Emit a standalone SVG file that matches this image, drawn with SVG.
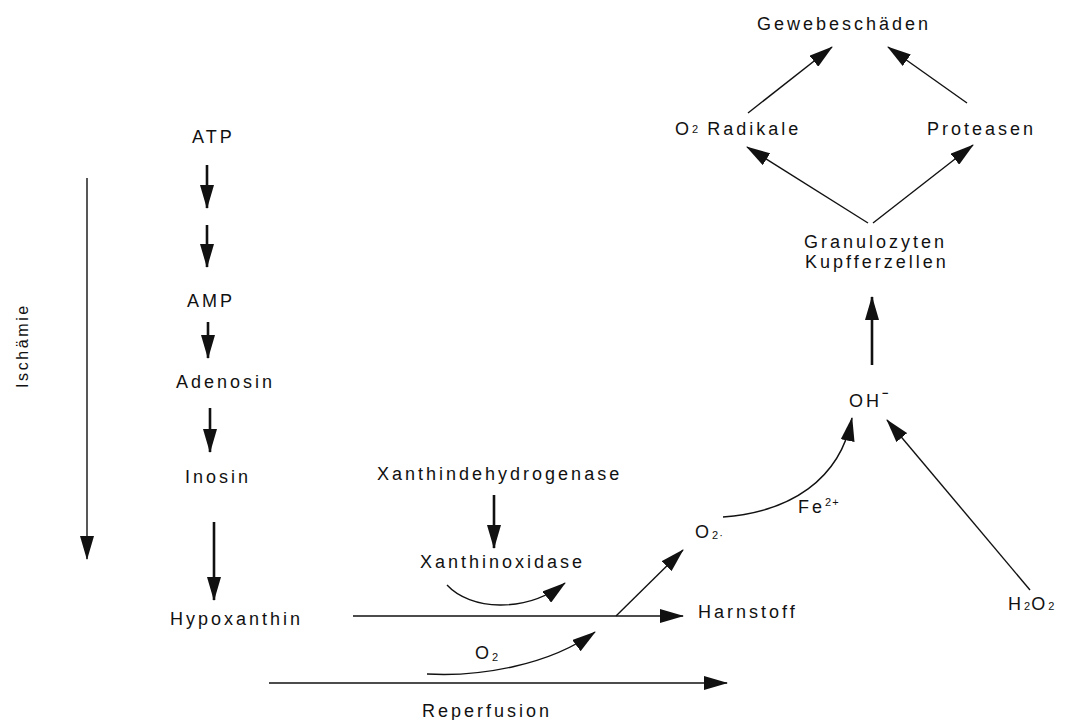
<svg xmlns="http://www.w3.org/2000/svg" width="1065" height="720" viewBox="0 0 1065 720">
<style>
text{font-family:"Liberation Sans",Arial,Helvetica,sans-serif;font-size:18px;letter-spacing:3px;fill:#111}
.sm{font-size:11px;letter-spacing:1px}
.c{fill:none;stroke:#111;stroke-width:1.4}
.t{stroke-width:2.6}
</style>
<defs>
<marker id="ah" viewBox="0 0 24 14" refX="23" refY="7" markerWidth="24" markerHeight="14" markerUnits="userSpaceOnUse" orient="auto">
<path d="M0,0 L24,7 L0,14 Z" fill="#111"/>
</marker>
</defs>
<rect width="1065" height="720" fill="#fff"/>
<g id="connectors">
<path class="c" d="M87,178 V559" marker-end="url(#ah)"/>
<path class="c t" d="M207,165 V208" marker-end="url(#ah)"/>
<path class="c t" d="M207,225 V267" marker-end="url(#ah)"/>
<path class="c t" d="M208,322 V358" marker-end="url(#ah)"/>
<path class="c t" d="M210,408 V452" marker-end="url(#ah)"/>
<path class="c t" d="M214,522 V600" marker-end="url(#ah)"/>
<path class="c t" d="M494,495 V548" marker-end="url(#ah)"/>
<path class="c" d="M447,585 C470,610 525,614 565,583" marker-end="url(#ah)"/>
<path class="c" d="M353,616 H683" marker-end="url(#ah)"/>
<path class="c" d="M616,616 L683,550" marker-end="url(#ah)"/>
<path class="c" d="M427,674 C480,677 550,665 595,632" marker-end="url(#ah)"/>
<path class="c" d="M269,683 H727" stroke-width="1.8" marker-end="url(#ah)"/>
<path class="c" d="M723,517 C790,512 840,480 852,418" marker-end="url(#ah)"/>
<path class="c" d="M1030,590 L887,420" marker-end="url(#ah)"/>
<path class="c t" d="M872,365 V297" marker-end="url(#ah)"/>
<path class="c" d="M868,223 L747,147" marker-end="url(#ah)"/>
<path class="c" d="M873,223 L973,145" marker-end="url(#ah)"/>
<path class="c" d="M748,113 L832,47" marker-end="url(#ah)"/>
<path class="c" d="M967,103 L888,47" marker-end="url(#ah)"/>
</g>
<g id="ischaemie"><text transform="translate(28,388) rotate(-90)" style="font-size:16px;letter-spacing:2.6px">Ischämie</text></g>
<g id="atp"><text x="192" y="143">ATP</text></g>
<g id="amp"><text x="187" y="307">AMP</text></g>
<g id="adenosin"><text x="176" y="388">Adenosin</text></g>
<g id="inosin"><text x="185" y="483">Inosin</text></g>
<g id="hypoxanthin"><text x="170" y="625">Hypoxanthin</text></g>
<g id="xanthindehydrogenase"><text x="377" y="480">Xanthindehydrogenase</text></g>
<g id="xanthinoxidase"><text x="420" y="568">Xanthinoxidase</text></g>
<g id="o2"><text x="475" y="659">O<tspan class="sm" dy="2">2</tspan></text></g>
<g id="reperfusion"><text x="422" y="717">Reperfusion</text></g>
<g id="harnstoff"><text x="698" y="618">Harnstoff</text></g>
<g id="o2rad"><text x="695" y="538">O<tspan class="sm" dy="1">2·</tspan></text></g>
<g id="fe"><text x="798" y="513">Fe<tspan class="sm" dy="-7">2+</tspan></text></g>
<g id="h2o2"><text x="1008" y="610">H<tspan class="sm">2</tspan><tspan>O</tspan><tspan class="sm">2</tspan></text></g>
<g id="oh"><text x="849" y="407">OH<tspan class="sm" dy="-10" style="font-weight:bold">−</tspan></text></g>
<g id="granulozyten"><text x="804" y="248">Granulozyten</text><text x="805" y="268">Kupfferzellen</text></g>
<g id="o2radikale"><text x="675" y="135">O<tspan class="sm" dy="-2">2</tspan><tspan dy="2"> Radikale</tspan></text></g>
<g id="proteasen"><text x="927" y="135">Proteasen</text></g>
<g id="gewebeschaeden"><text x="757" y="30">Gewebeschäden</text></g>
</svg>
